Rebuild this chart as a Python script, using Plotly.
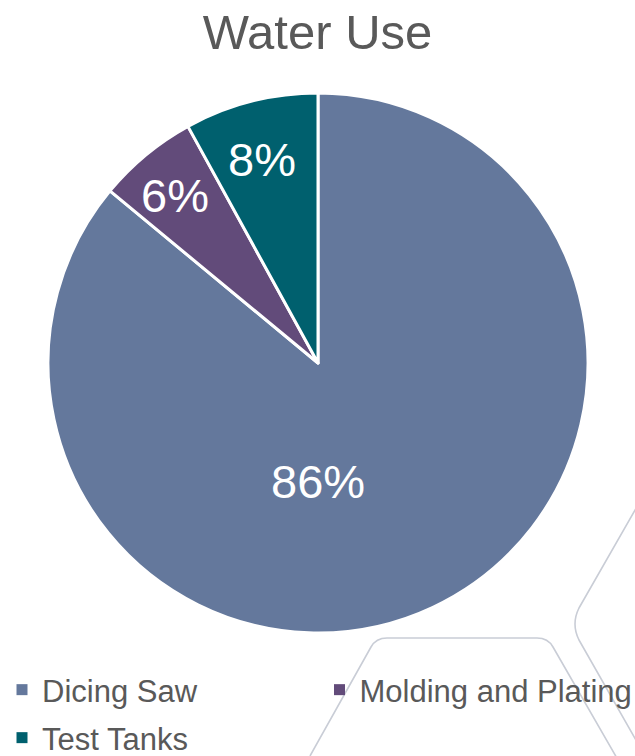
import math
import plotly.graph_objects as go

# ---- data ----
categories = ["Dicing Saw", "Molding and Plating", "Test Tanks"]
values = [86, 6, 8]
title_text = "Water Use"

# ---- styles ----
colors = ["#64789C", "#624B7A", "#00606E"]
W, H = 635, 756
FONT = "Liberation Sans, Arial, sans-serif"
TXT = "#595959"

# pie geometry in pixels (centre & radius)
cx, cy, R = 318, 363, 270


def px(x, y):
    return x / W, 1 - y / H


fig = go.Figure()
fig.add_trace(go.Pie(
    labels=categories,
    values=values,
    sort=False,
    direction="clockwise",
    rotation=0,
    marker=dict(colors=colors, line=dict(color="white", width=3)),
    textinfo="none",
    hoverinfo="label+percent",
    showlegend=False,
    domain=dict(x=[(cx - R) / W, (cx + R) / W], y=[1 - (cy + R) / H, 1 - (cy - R) / H]),
))

# legend entries (one per category) split over two legend rows like the reference
legend_ids = ["legend", "legend", "legend2"]
for name, col, lg in zip(categories, colors, legend_ids):
    fig.add_trace(go.Scatter(
        x=[None], y=[None], mode="markers", name=name, legend=lg,
        marker=dict(symbol="square", size=11, color=col),
        hoverinfo="skip",
    ))

# percentage labels (text computed from values)
# anchor positions: (angle deg clockwise from top, radius fraction)
label_pos = [(180, 0.44), (319.5, 0.815), (344.6, 0.78)]
total = sum(values)
annotations = []
for v, (ang, rf) in zip(values, label_pos):
    a = math.radians(ang)
    x = cx + rf * R * math.sin(a)
    y = cy - rf * R * math.cos(a)
    xp, yp = px(x, y)
    annotations.append(dict(
        x=xp, y=yp, xref="paper", yref="paper", showarrow=False,
        text=f"{round(v / total * 100)}%",
        font=dict(family=FONT, size=47, color="white"),
        xanchor="center", yanchor="middle",
    ))


# decorative background hexagon outlines
def path(points):
    s = ""
    for cmd, pts in points:
        coords = " ".join(f"{px(x, y)[0]:.5f},{px(x, y)[1]:.5f}" for x, y in pts)
        s += f"{cmd} {coords} "
    return s.strip()


hexA = path([("M", [(310, 756)]), ("L", [(371, 647)]), ("Q", [(376, 638), (387, 638)]),
             ("L", [(537, 638)]), ("Q", [(548, 638), (553, 647)]), ("L", [(618, 760)])])
hexB = path([("M", [(638, 505)]), ("L", [(579, 608)]), ("Q", [(571, 624), (579, 640)]),
             ("L", [(645, 756)])])
shapes = [
    dict(type="path", path=hexA, xref="paper", yref="paper", layer="below",
         line=dict(color="#C9CDD6", width=1.6)),
    dict(type="path", path=hexB, xref="paper", yref="paper", layer="below",
         line=dict(color="#C9CDD6", width=1.6)),
]

legend_font = dict(family=FONT, size=31, color=TXT)
fig.update_layout(
    width=W, height=H,
    margin=dict(l=0, r=0, t=0, b=0, autoexpand=False),
    paper_bgcolor="white",
    plot_bgcolor="white",
    xaxis=dict(visible=False),
    yaxis=dict(visible=False),
    title=dict(text=title_text, x=0.5, xanchor="center", y=1 - 32 / H, yanchor="middle",
               font=dict(family=FONT, size=49, color=TXT)),
    legend=dict(orientation="h", x=2 / W, xanchor="left", y=1 - 690 / H, yanchor="middle",
                entrywidth=0.5, entrywidthmode="fraction",
                font=legend_font, bgcolor="rgba(0,0,0,0)"),
    legend2=dict(orientation="h", x=2 / W, xanchor="left", y=1 - 738 / H, yanchor="middle",
                 font=legend_font, bgcolor="rgba(0,0,0,0)"),
    showlegend=True,
    annotations=annotations,
    shapes=shapes,
)

fig.write_html("out.html", config={"displayModeBar": False},
               post_script="document.body.style.margin='0px';")
